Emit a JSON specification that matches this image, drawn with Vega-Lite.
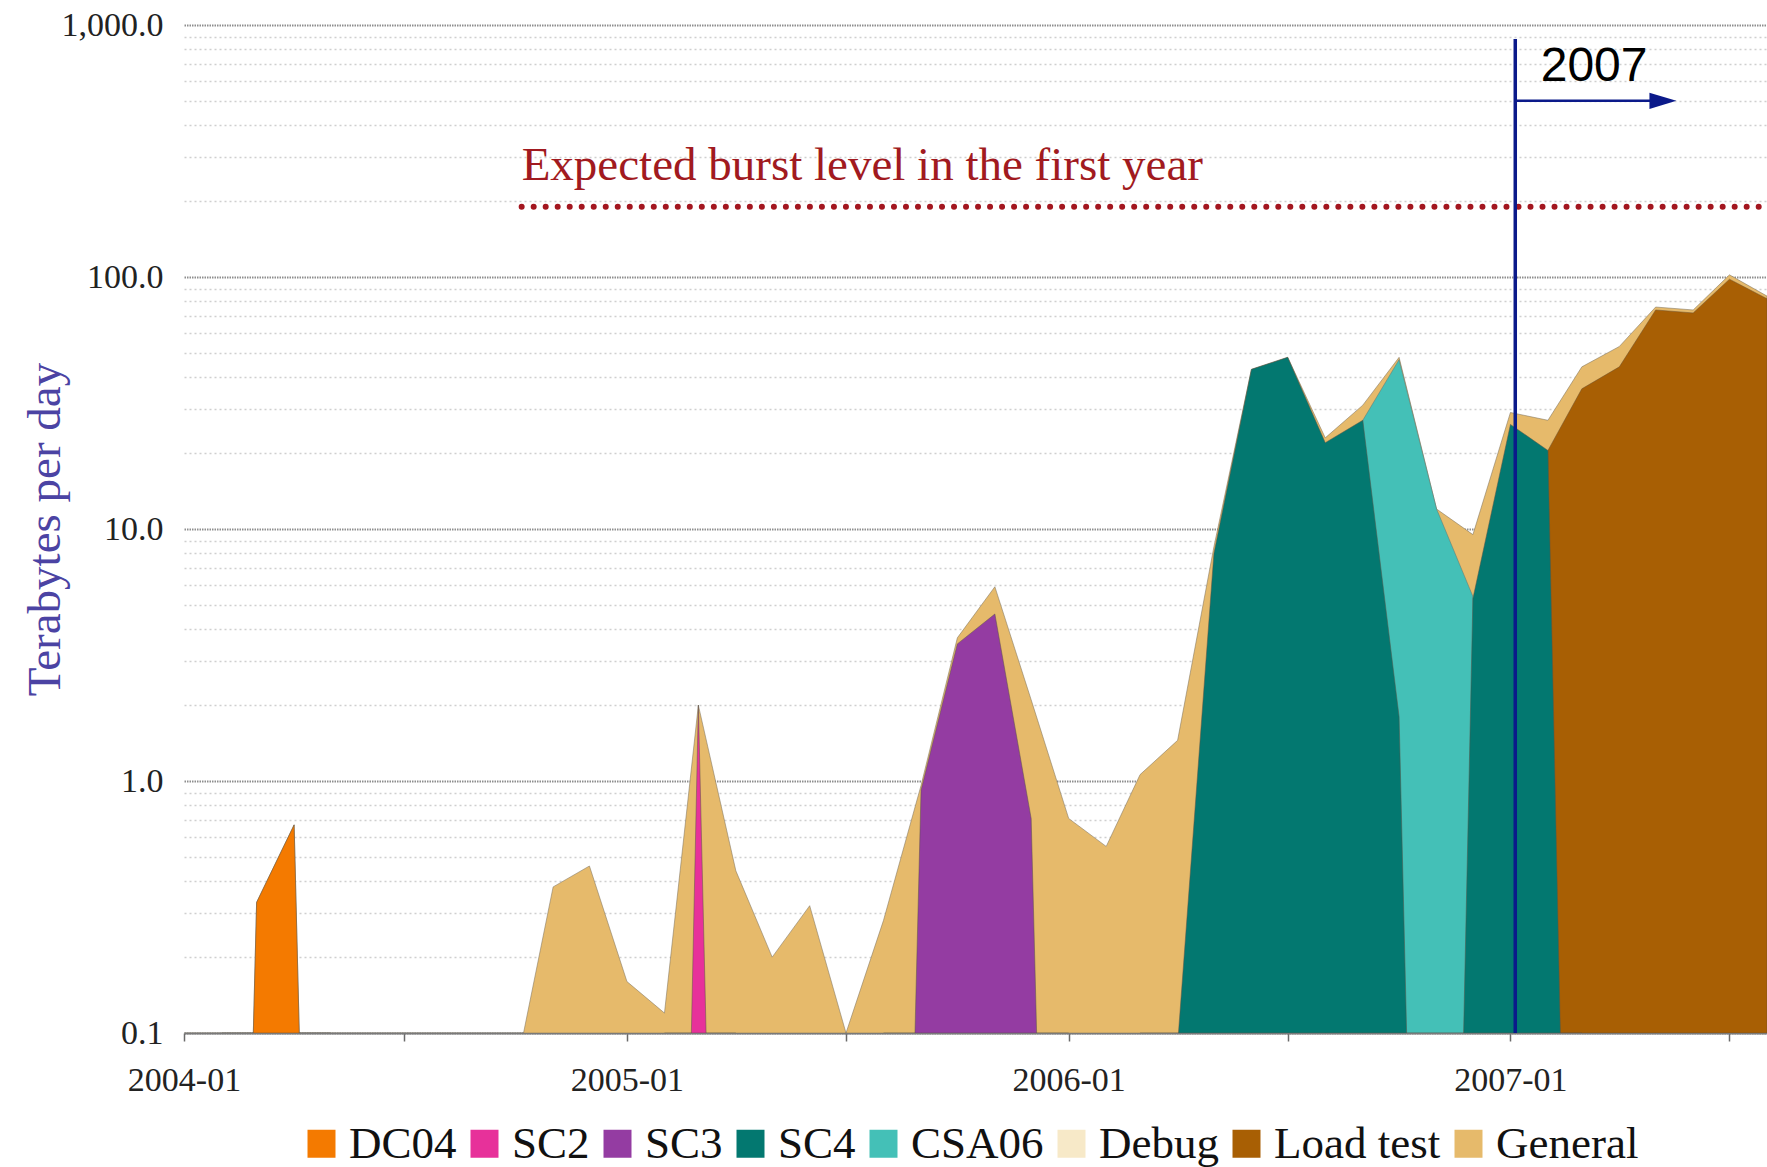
{
  "$schema": "https://vega.github.io/schema/vega-lite/v6.json",
  "autosize": {"type": "none"},
  "width": 1583,
  "height": 1008,
  "padding": {"left": 184, "top": 25, "right": 0, "bottom": 134},
  "background": "white",
  "config": {"font": "Liberation Serif", "view": {"stroke": null}},
  "datasets": {
    "flows": [
      {"month": "2004-01-01T00:00", "series": "General", "tb": 0.000001},
      {"month": "2004-02-01T00:00", "series": "General", "tb": 0.000001},
      {"month": "2004-03-01T00:00", "series": "General", "tb": 0.33},
      {"month": "2004-04-01T00:00", "series": "General", "tb": 0.67},
      {"month": "2004-05-01T00:00", "series": "General", "tb": 0.000001},
      {"month": "2004-06-01T00:00", "series": "General", "tb": 0.000001},
      {"month": "2004-07-01T00:00", "series": "General", "tb": 0.000001},
      {"month": "2004-08-01T00:00", "series": "General", "tb": 0.000001},
      {"month": "2004-09-01T00:00", "series": "General", "tb": 0.000001},
      {"month": "2004-10-01T00:00", "series": "General", "tb": 0.07},
      {"month": "2004-11-01T00:00", "series": "General", "tb": 0.38},
      {"month": "2004-12-01T00:00", "series": "General", "tb": 0.46},
      {"month": "2005-01-01T00:00", "series": "General", "tb": 0.16},
      {"month": "2005-02-01T00:00", "series": "General", "tb": 0.12},
      {"month": "2005-03-01T00:00", "series": "General", "tb": 2.0},
      {"month": "2005-04-01T00:00", "series": "General", "tb": 0.44},
      {"month": "2005-05-01T00:00", "series": "General", "tb": 0.2},
      {"month": "2005-06-01T00:00", "series": "General", "tb": 0.32},
      {"month": "2005-07-01T00:00", "series": "General", "tb": 0.1},
      {"month": "2005-08-01T00:00", "series": "General", "tb": 0.28},
      {"month": "2005-09-01T00:00", "series": "General", "tb": 0.96},
      {"month": "2005-10-01T00:00", "series": "General", "tb": 3.7},
      {"month": "2005-11-01T00:00", "series": "General", "tb": 5.9},
      {"month": "2005-12-01T00:00", "series": "General", "tb": 2.1},
      {"month": "2006-01-01T00:00", "series": "General", "tb": 0.71},
      {"month": "2006-02-01T00:00", "series": "General", "tb": 0.55},
      {"month": "2006-03-01T00:00", "series": "General", "tb": 1.06},
      {"month": "2006-04-01T00:00", "series": "General", "tb": 1.45},
      {"month": "2006-05-01T00:00", "series": "General", "tb": 8.5},
      {"month": "2006-06-01T00:00", "series": "General", "tb": 43},
      {"month": "2006-07-01T00:00", "series": "General", "tb": 48},
      {"month": "2006-08-01T00:00", "series": "General", "tb": 23},
      {"month": "2006-09-01T00:00", "series": "General", "tb": 31},
      {"month": "2006-10-01T00:00", "series": "General", "tb": 48},
      {"month": "2006-11-01T00:00", "series": "General", "tb": 12},
      {"month": "2006-12-01T00:00", "series": "General", "tb": 9.5},
      {"month": "2007-01-01T00:00", "series": "General", "tb": 29},
      {"month": "2007-02-01T00:00", "series": "General", "tb": 27},
      {"month": "2007-03-01T00:00", "series": "General", "tb": 44},
      {"month": "2007-04-01T00:00", "series": "General", "tb": 53},
      {"month": "2007-05-01T00:00", "series": "General", "tb": 76},
      {"month": "2007-06-01T00:00", "series": "General", "tb": 74},
      {"month": "2007-07-01T00:00", "series": "General", "tb": 102},
      {"month": "2007-08-01T00:00", "series": "General", "tb": 84},

      {"month": "2004-02-01T00:00", "series": "DC04", "tb": 0.000001},
      {"month": "2004-03-01T00:00", "series": "DC04", "tb": 0.33},
      {"month": "2004-04-01T00:00", "series": "DC04", "tb": 0.67},
      {"month": "2004-05-01T00:00", "series": "DC04", "tb": 0.000001},

      {"month": "2005-02-01T00:00", "series": "SC2", "tb": 0.000001},
      {"month": "2005-03-01T00:00", "series": "SC2", "tb": 2.0},
      {"month": "2005-04-01T00:00", "series": "SC2", "tb": 0.000001},

      {"month": "2005-08-01T00:00", "series": "SC3", "tb": 0.000001},
      {"month": "2005-09-01T00:00", "series": "SC3", "tb": 0.92},
      {"month": "2005-10-01T00:00", "series": "SC3", "tb": 3.5},
      {"month": "2005-11-01T00:00", "series": "SC3", "tb": 4.6},
      {"month": "2005-12-01T00:00", "series": "SC3", "tb": 0.71},
      {"month": "2006-01-01T00:00", "series": "SC3", "tb": 0.000001},

      {"month": "2006-03-01T00:00", "series": "SC4", "tb": 0.000001},
      {"month": "2006-04-01T00:00", "series": "SC4", "tb": 0.09},
      {"month": "2006-05-01T00:00", "series": "SC4", "tb": 8.0},
      {"month": "2006-06-01T00:00", "series": "SC4", "tb": 43},
      {"month": "2006-07-01T00:00", "series": "SC4", "tb": 48},
      {"month": "2006-08-01T00:00", "series": "SC4", "tb": 22},
      {"month": "2006-09-01T00:00", "series": "SC4", "tb": 27},
      {"month": "2006-10-01T00:00", "series": "SC4", "tb": 1.8},
      {"month": "2006-11-01T00:00", "series": "SC4", "tb": 0.000001},
      {"month": "2006-12-01T00:00", "series": "SC4", "tb": 5.3},
      {"month": "2007-01-01T00:00", "series": "SC4", "tb": 26},
      {"month": "2007-02-01T00:00", "series": "SC4", "tb": 20.5},
      {"month": "2007-03-01T00:00", "series": "SC4", "tb": 0.00001},

      {"month": "2006-08-01T00:00", "series": "CSA06", "tb": 0.000001},
      {"month": "2006-09-01T00:00", "series": "CSA06", "tb": 27},
      {"month": "2006-10-01T00:00", "series": "CSA06", "tb": 47},
      {"month": "2006-11-01T00:00", "series": "CSA06", "tb": 12},
      {"month": "2006-12-01T00:00", "series": "CSA06", "tb": 5.4},
      {"month": "2007-01-01T00:00", "series": "CSA06", "tb": 0.000001},

      {"month": "2007-01-01T00:00", "series": "Load test", "tb": 0.000001},
      {"month": "2007-02-01T00:00", "series": "Load test", "tb": 20.5},
      {"month": "2007-03-01T00:00", "series": "Load test", "tb": 36},
      {"month": "2007-04-01T00:00", "series": "Load test", "tb": 44},
      {"month": "2007-05-01T00:00", "series": "Load test", "tb": 74},
      {"month": "2007-06-01T00:00", "series": "Load test", "tb": 72},
      {"month": "2007-07-01T00:00", "series": "Load test", "tb": 98},
      {"month": "2007-08-01T00:00", "series": "Load test", "tb": 82}
    ],
    "burst": [
      {"start": "2004-10-06T00:00", "end": "2007-08-01T00:00", "tb": 190, "labelTb": 243, "label": "Expected burst level in the first year"}
    ],
    "marker": [
      {"date": "2007-01-05T00:00", "low": 0.1, "high": 880, "arrowEnd": "2007-05-01T00:00", "arrowTb": 500, "headDate": "2007-05-07T00:00", "labelDate": "2007-01-26T00:00", "labelTb": 600, "label": "2007"}
    ]
  },
  "layer": [
    {
      "data": {"name": "flows"},
      "transform": [{"filter": "datum.series === 'General'"}],
      "mark": {"type": "area", "clip": true, "interpolate": "linear", "opacity": 1, "stroke": "#7f7460", "strokeWidth": 1, "strokeOpacity": 0.55},
      "encoding": {
        "x": {
          "field": "month", "type": "temporal",
          "scale": {"domain": [{"year": 2004, "month": 1, "date": 1}, {"year": 2007, "month": 8, "date": 1}], "nice": false},
          "axis": {
            "title": null,
            "values": [
              {"year": 2004, "month": 1, "date": 1}, {"year": 2004, "month": 7, "date": 1},
              {"year": 2005, "month": 1, "date": 1}, {"year": 2005, "month": 7, "date": 1},
              {"year": 2006, "month": 1, "date": 1}, {"year": 2006, "month": 7, "date": 1},
              {"year": 2007, "month": 1, "date": 1}, {"year": 2007, "month": 7, "date": 1}
            ],
            "labelExpr": "month(datum.value) == 0 ? timeFormat(datum.value, '%Y-%m') : ''",
            "grid": false,
            "domainColor": "#7a7a7a", "domainWidth": 2,
            "tickColor": "#6a6a6a", "tickWidth": 1.5, "tickSize": 8,
            "labelFontSize": 34, "labelPadding": 22, "labelColor": "#222222",
            "labelFlush": false, "labelOverlap": false, "labelBound": false
          }
        },
        "y": {
          "field": "tb", "type": "quantitative", "stack": null,
          "scale": {"type": "log", "domain": [0.1, 1000], "nice": false},
          "axis": {
            "title": "Terabytes per day",
            "values": [0.1, 0.2, 0.3, 0.4, 0.5, 0.6, 0.7, 0.8, 0.9, 1, 2, 3, 4, 5, 6, 7, 8, 9, 10, 20, 30, 40, 50, 60, 70, 80, 90, 100, 200, 300, 400, 500, 600, 700, 800, 900, 1000],
            "labelExpr": "abs(log(datum.value)/LN10 - round(log(datum.value)/LN10)) < 0.000001 ? format(datum.value, ',.1f') : ''",
            "ticks": false, "domain": false, "grid": true,
            "gridColor": {"condition": {"test": "abs(log(datum.value)/LN10 - round(log(datum.value)/LN10)) < 0.000001", "value": "#8e8e8e"}, "value": "#cfcfcf"},
            "gridDash": {"condition": {"test": "abs(log(datum.value)/LN10 - round(log(datum.value)/LN10)) < 0.000001", "value": [1.5, 1]}, "value": [2, 3]},
            "gridWidth": {"condition": {"test": "abs(log(datum.value)/LN10 - round(log(datum.value)/LN10)) < 0.000001", "value": 2.2}, "value": 1.5},
            "labelFontSize": 34, "labelPadding": 21, "labelColor": "#222222",
            "labelOverlap": false, "labelBound": false,
            "titleColor": "#4b43a3", "titleFontSize": 47, "titleFontWeight": "normal",
            "titleX": -139, "titleY": 504, "titleAngle": 270, "titleAlign": "center", "titleBaseline": "middle"
          }
        },
        "color": {
          "field": "series", "type": "nominal",
          "scale": {
            "domain": ["DC04", "SC2", "SC3", "SC4", "CSA06", "Debug", "Load test", "General"],
            "range": ["#f47a00", "#e7319a", "#943ca2", "#037870", "#44c0b7", "#f7e9c8", "#a85f04", "#e6ba6b"]
          },
          "legend": {
            "orient": "none", "legendX": 115, "legendY": 1096, "direction": "horizontal", "columns": 8,
            "title": null, "symbolType": "square", "symbolSize": 784, "symbolStrokeWidth": 0, "symbolOpacity": 1,
            "labelFontSize": 45, "labelFont": "Liberation Serif", "labelColor": "#111111",
            "labelOffset": 5, "columnPadding": 5, "padding": 0, "labelLimit": 0
          }
        }
      }
    },
    {
      "data": {"name": "flows"},
      "transform": [{"filter": "datum.series === 'CSA06'"}],
      "mark": {"type": "area", "clip": true, "interpolate": "linear", "opacity": 1, "stroke": "#5f7470", "strokeWidth": 1, "strokeOpacity": 0.5},
      "encoding": {
        "x": {"field": "month", "type": "temporal", "scale": {"domain": [{"year": 2004, "month": 1, "date": 1}, {"year": 2007, "month": 8, "date": 1}], "nice": false}},
        "y": {"field": "tb", "type": "quantitative", "stack": null, "scale": {"type": "log", "domain": [0.1, 1000], "nice": false}},
        "color": {"field": "series", "type": "nominal"}
      }
    },
    {
      "data": {"name": "flows"},
      "transform": [{"filter": "datum.series === 'Load test'"}],
      "mark": {"type": "area", "clip": true, "interpolate": "linear", "opacity": 1, "stroke": "#6a5030", "strokeWidth": 1, "strokeOpacity": 0.5},
      "encoding": {
        "x": {"field": "month", "type": "temporal", "scale": {"domain": [{"year": 2004, "month": 1, "date": 1}, {"year": 2007, "month": 8, "date": 1}], "nice": false}},
        "y": {"field": "tb", "type": "quantitative", "stack": null, "scale": {"type": "log", "domain": [0.1, 1000], "nice": false}},
        "color": {"field": "series", "type": "nominal"}
      }
    },
    {
      "data": {"name": "flows"},
      "transform": [{"filter": "datum.series !== 'CSA06' && datum.series !== 'General' && datum.series !== 'Load test'"}],
      "mark": {"type": "area", "clip": true, "interpolate": "linear", "opacity": 1, "stroke": "#5c5448", "strokeWidth": 1, "strokeOpacity": 0.5},
      "encoding": {
        "x": {"field": "month", "type": "temporal", "scale": {"domain": [{"year": 2004, "month": 1, "date": 1}, {"year": 2007, "month": 8, "date": 1}], "nice": false}},
        "y": {"field": "tb", "type": "quantitative", "stack": null, "scale": {"type": "log", "domain": [0.1, 1000], "nice": false}},
        "color": {"field": "series", "type": "nominal"}
      }
    },
    {
      "data": {"name": "burst"},
      "mark": {"type": "rule", "color": "#a3161f", "strokeWidth": 6, "strokeCap": "round", "strokeDash": [0.01, 12]},
      "encoding": {
        "x": {"field": "start", "type": "temporal", "scale": {"domain": [{"year": 2004, "month": 1, "date": 1}, {"year": 2007, "month": 8, "date": 1}], "nice": false}},
        "x2": {"field": "end"},
        "y": {"field": "tb", "type": "quantitative", "scale": {"type": "log", "domain": [0.1, 1000], "nice": false}}
      }
    },
    {
      "data": {"name": "burst"},
      "mark": {"type": "text", "align": "left", "baseline": "alphabetic", "font": "Liberation Serif", "fontSize": 47, "color": "#a11a20"},
      "encoding": {
        "x": {"field": "start", "type": "temporal", "scale": {"domain": [{"year": 2004, "month": 1, "date": 1}, {"year": 2007, "month": 8, "date": 1}], "nice": false}},
        "y": {"field": "labelTb", "type": "quantitative", "scale": {"type": "log", "domain": [0.1, 1000], "nice": false}},
        "text": {"field": "label"}
      }
    },
    {
      "data": {"name": "marker"},
      "mark": {"type": "rule", "color": "#0b1a8a", "strokeWidth": 3.5},
      "encoding": {
        "x": {"field": "date", "type": "temporal", "scale": {"domain": [{"year": 2004, "month": 1, "date": 1}, {"year": 2007, "month": 8, "date": 1}], "nice": false}},
        "y": {"field": "low", "type": "quantitative", "scale": {"type": "log", "domain": [0.1, 1000], "nice": false}},
        "y2": {"field": "high"}
      }
    },
    {
      "data": {"name": "marker"},
      "mark": {"type": "rule", "color": "#0b1a8a", "strokeWidth": 2.5},
      "encoding": {
        "x": {"field": "date", "type": "temporal", "scale": {"domain": [{"year": 2004, "month": 1, "date": 1}, {"year": 2007, "month": 8, "date": 1}], "nice": false}},
        "x2": {"field": "arrowEnd"},
        "y": {"field": "arrowTb", "type": "quantitative", "scale": {"type": "log", "domain": [0.1, 1000], "nice": false}}
      }
    },
    {
      "data": {"name": "marker"},
      "mark": {"type": "point", "shape": "M-1,-0.6L1,0L-1,0.6Z", "filled": true, "color": "#0b1a8a", "opacity": 1, "size": 729, "strokeWidth": 0},
      "encoding": {
        "x": {"field": "headDate", "type": "temporal", "scale": {"domain": [{"year": 2004, "month": 1, "date": 1}, {"year": 2007, "month": 8, "date": 1}], "nice": false}},
        "y": {"field": "arrowTb", "type": "quantitative", "scale": {"type": "log", "domain": [0.1, 1000], "nice": false}}
      }
    },
    {
      "data": {"name": "marker"},
      "mark": {"type": "text", "align": "left", "baseline": "alphabetic", "font": "Liberation Sans", "fontSize": 48, "color": "#000000"},
      "encoding": {
        "x": {"field": "labelDate", "type": "temporal", "scale": {"domain": [{"year": 2004, "month": 1, "date": 1}, {"year": 2007, "month": 8, "date": 1}], "nice": false}},
        "y": {"field": "labelTb", "type": "quantitative", "scale": {"type": "log", "domain": [0.1, 1000], "nice": false}},
        "text": {"field": "label"}
      }
    }
  ]
}
